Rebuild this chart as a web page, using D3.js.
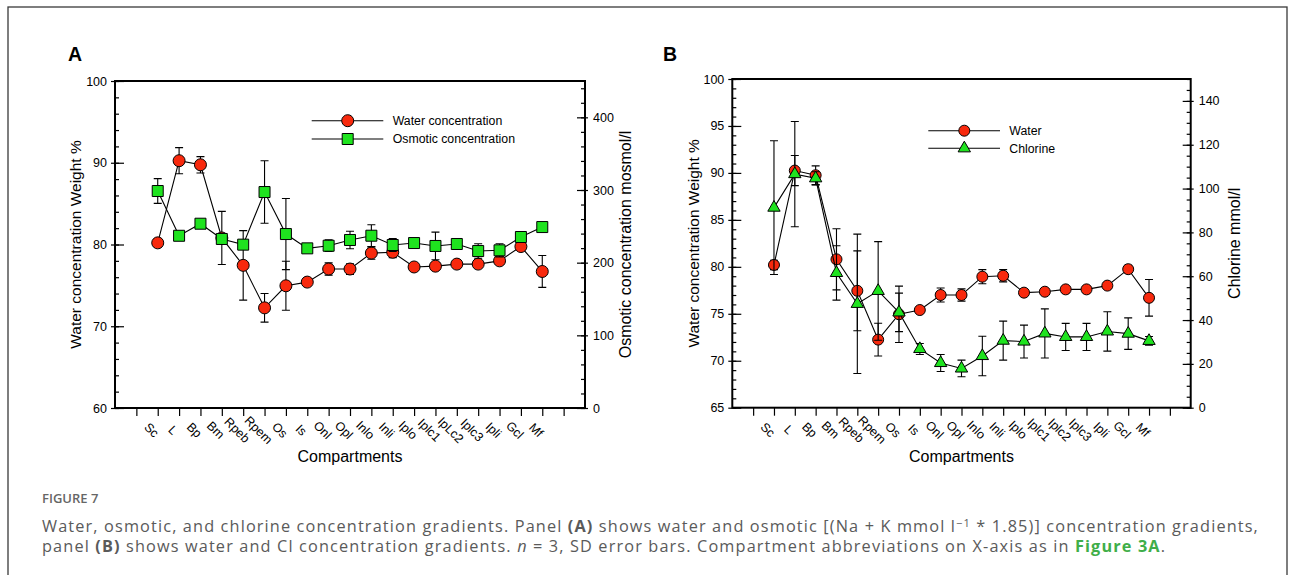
<!DOCTYPE html>
<html>
<head>
<meta charset="utf-8">
<script src="https://cdn.jsdelivr.net/npm/d3@7"></script>
<style>
body { margin: 0; background: #fff; }
svg text { font-family: "Liberation Sans", Arial, Helvetica, sans-serif; fill: #000; }
.caption text { font-family: "Open Sans", "Noto Sans", sans-serif; }
</style>
</head>
<body>
<svg id="fig" width="1295" height="575"></svg>
<script>
// compartments on the x axis (panel A and B spell one label differently)
var labelsA = ["Sc", "L", "Bp", "Bm", "Rpeb", "Rpem", "Os", "Is", "Onl", "Opl", "Inlo", "Inli", "Iplo", "Iplc1", "IpLc2", "Iplc3", "Ipli", "Gcl", "Mf"];
var labelsB = ["Sc", "L", "Bp", "Bm", "Rpeb", "Rpem", "Os", "Is", "Onl", "Opl", "Inlo", "Inli", "Iplo", "Iplc1", "Iplc2", "Iplc3", "Ipli", "Gcl", "Mf"];

// water concentration, weight %
var waterMean = [80.2, 90.25, 89.75, 80.8, 77.45, 72.25, 74.95, 75.4, 77.0, 77.0, 78.95, 79.05, 77.25, 77.35, 77.6, 77.6, 78.0, 79.75, 76.7];
var waterSD   = [0.5, 1.6, 1.0, 3.25, 4.25, 1.75, 3.0, 0.3, 0.75, 0.65, 0.75, 0.65, 0.3, 0.3, 0.3, 0.3, 0.3, 0.4, 1.95];

// osmotic concentration, mosmol/l
var osmoticMean = [298.6, 237, 253.6, 232.6, 224.8, 297.2, 239.4, 219.7, 223.3, 231.2, 237.1, 224.3, 227, 223, 225.7, 216, 217, 235.3, 249];
var osmoticSD   = [17, 6, 0, 4, 3, 43, 49, 2, 8, 12, 15, 9, 3, 19, 3, 10, 9, 7, 0];

// chlorine, mmol/l
var chlorineMean = [91.3, 106.6, 104.7, 61.5, 47.4, 53.3, 43.5, 26.8, 20.4, 17.9, 23.6, 30.6, 30.2, 33.9, 32.3, 32.3, 34.8, 33.8, 30.5];
var chlorineSD   = [30.5, 24, 3, 12.4, 31.8, 22.5, 8.8, 2.5, 3.9, 3.8, 9, 8.9, 7.5, 11.2, 6.2, 6.2, 9, 7.2, 2];

var RED = "#f8290d", GREEN = "#1fe31f";

var svg = d3.select("#fig");

svg.append("rect")
    .attr("x", 8).attr("y", 7)
    .attr("width", 1279).attr("height", 600)
    .attr("fill", "none")
    .attr("stroke", "#3a3a3a")
    .attr("stroke-width", 1.3);

function shape(name, size) {
    var t = name == "square" ? d3.symbolSquare : (name == "triangle" ? d3.symbolTriangle : d3.symbolCircle);
    return d3.symbol().type(t).size(size)();
}

function panel(o) {
    var g = svg.append("g");
    var x = d3.scaleLinear().domain([0, 22]).range([o.left, o.right]);
    var yL = d3.scaleLinear().domain(o.yL).range([o.bottom, o.top]);
    var yR = d3.scaleLinear().domain(o.yR).range([o.bottom, o.top]);

    // left axis: crossing major ticks, inner minor ticks
    g.append("g").attr("transform", "translate(" + o.left + ",0)")
        .call(d3.axisLeft(yL).tickValues(d3.range(o.yL[0], o.yL[1] + 0.01, o.majL)).tickSize(4).tickPadding(4))
        .call(function(a) { a.select(".domain").remove(); });
    g.append("g").attr("transform", "translate(" + o.left + ",0)")
        .call(d3.axisRight(yL).tickValues(d3.range(o.yL[0], o.yL[1] + 0.01, o.majL)).tickSize(9).tickFormat(""))
        .call(function(a) { a.select(".domain").remove(); });
    g.append("g").attr("transform", "translate(" + o.left + ",0)")
        .call(d3.axisRight(yL).tickValues(d3.range(o.yL[0], o.yL[1] + 0.01, o.minL)).tickSize(4).tickFormat(""))
        .call(function(a) { a.select(".domain").remove(); });

    // right axis
    g.append("g").attr("transform", "translate(" + o.right + ",0)")
        .call(d3.axisRight(yR).tickValues(d3.range(o.yR[0], o.yR[1] - o.majR / 2 + 0.01, o.majR)).tickSize(3).tickPadding(5))
        .call(function(a) { a.select(".domain").remove(); });
    g.append("g").attr("transform", "translate(" + o.right + ",0)")
        .call(d3.axisLeft(yR).tickValues(d3.range(o.yR[0], o.yR[1] - o.majR / 2 + 0.01, o.majR)).tickSize(8).tickFormat(""))
        .call(function(a) { a.select(".domain").remove(); });
    g.append("g").attr("transform", "translate(" + o.right + ",0)")
        .call(d3.axisLeft(yR).tickValues(d3.range(o.yR[0], o.yR[1] + 0.01, o.minR)).tickSize(4).tickFormat(""))
        .call(function(a) { a.select(".domain").remove(); });

    // bottom ticks
    g.append("g").attr("transform", "translate(0," + o.bottom + ")")
        .call(d3.axisBottom(x).tickValues(d3.range(1, 22)).tickSize(8).tickFormat(""))
        .call(function(a) { a.select(".domain").remove(); });

    g.selectAll(".tick line").attr("stroke", "#000").attr("stroke-width", 1.2);
    g.selectAll(".tick text").attr("font-size", 12.5).attr("font-family", "Liberation Sans, Arial, sans-serif");

    g.append("rect")
        .attr("x", o.left).attr("y", o.top)
        .attr("width", o.right - o.left).attr("height", o.bottom - o.top)
        .attr("fill", "none").attr("stroke", "#000").attr("stroke-width", 2);

    g.selectAll(".xlab").data(o.labels).enter().append("text")
        .attr("transform", function(d, i) { return "translate(" + (x(i + 2) - 6) + "," + (o.bottom + 22) + ") rotate(45)"; })
        .attr("text-anchor", "middle")
        .attr("dy", "0.35em")
        .attr("font-size", 12.5)
        .text(function(d) { return d; });

    o.series.forEach(function(s) {
        var y = s.axis == "R" ? yR : yL;
        var sg = g.append("g");
        sg.append("path")
            .datum(s.mean)
            .attr("fill", "none").attr("stroke", "#000").attr("stroke-width", 1.1)
            .attr("d", d3.line().x(function(d, i) { return x(i + 2); }).y(function(d) { return y(d); }));

        s.mean.forEach(function(m, i) {
            var sd = s.sd[i];
            if (!sd) return;
            var cx = x(i + 2), y1 = y(m + sd), y2 = y(m - sd);
            sg.append("path")
                .attr("d", "M" + cx + "," + y1 + "V" + y2 + "M" + (cx - 4) + "," + y1 + "H" + (cx + 4) + "M" + (cx - 4) + "," + y2 + "H" + (cx + 4))
                .attr("stroke", "#000").attr("stroke-width", 1.1).attr("fill", "none");
        });

        sg.selectAll(".pt").data(s.mean).enter().append("path")
            .attr("transform", function(d, i) { return "translate(" + x(i + 2) + "," + y(d) + ")"; })
            .attr("d", shape(s.shape, s.size))
            .attr("fill", s.color).attr("stroke", "#000").attr("stroke-width", 1);
    });

    // legend
    o.series.forEach(function(s, k) {
        var ly = o.legend.y + k * o.legend.dy;
        g.append("line")
            .attr("x1", o.legend.x1).attr("x2", o.legend.x2)
            .attr("y1", ly).attr("y2", ly)
            .attr("stroke", "#000").attr("stroke-width", 1.1);
        g.append("path")
            .attr("transform", "translate(" + o.legend.xm + "," + ly + ")")
            .attr("d", shape(s.shape, s.size))
            .attr("fill", s.color).attr("stroke", "#000");
        g.append("text")
            .attr("x", o.legend.xt).attr("y", ly).attr("dy", "0.35em")
            .attr("font-size", 12.3)
            .text(s.name);
    });

    g.append("text")
        .attr("transform", "translate(" + o.titleLx + "," + (o.top + o.bottom) / 2 + ") rotate(-90)")
        .attr("text-anchor", "middle").attr("font-size", 15.5)
        .text(o.titleL);
    g.append("text")
        .attr("transform", "translate(" + o.titleRx + "," + (o.top + o.bottom) / 2 + ") rotate(-90)")
        .attr("text-anchor", "middle").attr("font-size", 16)
        .text(o.titleR);
    g.append("text")
        .attr("x", (o.left + o.right) / 2).attr("y", 461.5)
        .attr("text-anchor", "middle").attr("font-size", 16)
        .text("Compartments");
    g.append("text")
        .attr("x", o.tagX).attr("y", 60.5)
        .attr("font-size", 19.5).attr("font-weight", "bold")
        .text(o.tag);
}

panel({
    tag: "A", tagX: 68,
    left: 115, right: 585, top: 81, bottom: 408,
    labels: labelsA,
    yL: [60, 100], majL: 10, minL: 2,
    yR: [0, 450], majR: 100, minR: 20,
    titleL: "Water concentration Weight %", titleLx: 81,
    titleR: "Osmotic concentration mosmol/l", titleRx: 631,
    legend: { x1: 311.7, x2: 383.3, xm: 347.7, xt: 392.7, y: 120.7, dy: 18.3 },
    series: [
        { name: "Water concentration", mean: waterMean, sd: waterSD, axis: "L", shape: "circle", size: 113, color: RED },
        { name: "Osmotic concentration", mean: osmoticMean, sd: osmoticSD, axis: "R", shape: "square", size: 121, color: GREEN }
    ]
});

panel({
    tag: "B", tagX: 663,
    left: 732.3, right: 1190.7, top: 79, bottom: 407.7,
    labels: labelsB,
    yL: [65, 100], majL: 5, minL: 1,
    yR: [0, 150], majR: 20, minR: 5,
    titleL: "Water concentration Weight %", titleLx: 699,
    titleR: "Chlorine mmol/l", titleRx: 1240,
    legend: { x1: 928.3, x2: 1000, xm: 964.3, xt: 1009.3, y: 130.7, dy: 17.6 },
    series: [
        { name: "Water", mean: waterMean, sd: waterSD, axis: "L", shape: "circle", size: 95, color: RED },
        { name: "Chlorine", mean: chlorineMean, sd: chlorineSD, axis: "R", shape: "triangle", size: 66, color: GREEN }
    ]
});

// caption
var cap = svg.append("g").attr("class", "caption");
cap.append("text")
    .attr("x", 42).attr("y", 503)
    .attr("font-size", 13).attr("font-weight", 600)
    .style("fill", "#666")
    .text("FIGURE 7");

var l1 = cap.append("text").attr("x", 42).attr("y", 531.5).attr("font-size", 16.3).style("fill", "#5a5a5a");
l1.append("tspan").text("Water, osmotic, and chlorine concentration gradients. Panel ");
l1.append("tspan").attr("font-weight", "bold").text("(A)");
l1.append("tspan").text(" shows water and osmotic [(Na + K mmol l");
l1.append("tspan").attr("dy", -5).attr("font-size", 11).text("\u22121");
l1.append("tspan").attr("dy", 5).text(" * 1.85)] concentration gradients,");

var l2 = cap.append("text").attr("x", 42).attr("y", 551.5).attr("font-size", 16.3).style("fill", "#5a5a5a");
l2.append("tspan").text("panel ");
l2.append("tspan").attr("font-weight", "bold").text("(B)");
l2.append("tspan").text(" shows water and Cl concentration gradients. ");
l2.append("tspan").attr("font-style", "italic").text("n");
l2.append("tspan").text(" = 3, SD error bars. Compartment abbreviations on X-axis as in ");
l2.append("tspan").attr("font-weight", "bold").style("fill", "#3fae49").text("Figure 3A");
l2.append("tspan").text(".");

// squeeze or stretch letter spacing so line one spans the figure width
var w1 = l1.node().getComputedTextLength();
var n1 = l1.text().length;
var ls = (1217 - w1) / n1;
l1.attr("letter-spacing", ls);
l2.attr("letter-spacing", ls);
</script>
</body>
</html>
